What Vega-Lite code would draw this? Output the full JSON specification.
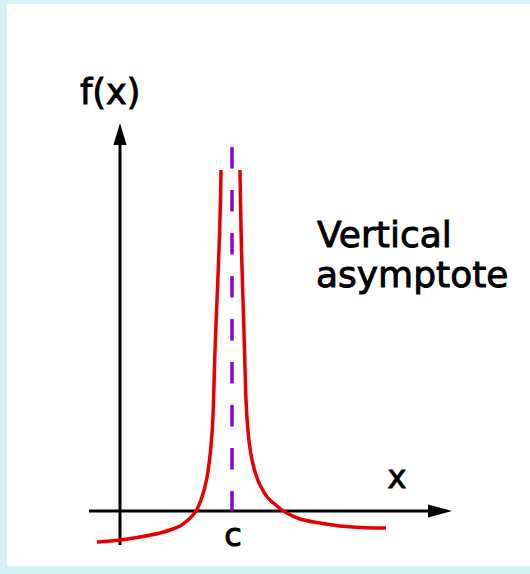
{
  "$schema": "https://vega.github.io/schema/vega-lite/v6.json",
  "width": 523,
  "height": 562,
  "autosize": {"type": "none"},
  "padding": {"left": 7, "top": 4, "right": 0, "bottom": 8},
  "background": "#d4f1f5",
  "config": {"view": {"fill": "#ffffff", "stroke": null}},
  "datasets": {
    "axes": [
      {"x": -3.1, "y": 0, "x2": 31.0, "y2": 0},
      {"x": 0, "y": -3.4, "x2": 0, "y2": 37.6}
    ],
    "asymptote": [
      {"x": 11.2, "y": 36.4, "x2": 11.2, "y2": 0}
    ],
    "curve": [
      {"branch": "left", "x": -2.3, "y": -3.1},
      {"branch": "left", "x": 0, "y": -2.9},
      {"branch": "left", "x": 2.0, "y": -2.6},
      {"branch": "left", "x": 4.0, "y": -2.2},
      {"branch": "left", "x": 5.0, "y": -1.9},
      {"branch": "left", "x": 6.0, "y": -1.5},
      {"branch": "left", "x": 6.8, "y": -0.9},
      {"branch": "left", "x": 7.6, "y": 0},
      {"branch": "left", "x": 8.2, "y": 1.4},
      {"branch": "left", "x": 8.65, "y": 3.1},
      {"branch": "left", "x": 8.95, "y": 5.1},
      {"branch": "left", "x": 9.15, "y": 7.1},
      {"branch": "left", "x": 9.28, "y": 9.1},
      {"branch": "left", "x": 9.4, "y": 12.6},
      {"branch": "left", "x": 9.5, "y": 16.1},
      {"branch": "left", "x": 9.7, "y": 21.1},
      {"branch": "left", "x": 9.9, "y": 26.1},
      {"branch": "left", "x": 10.05, "y": 31.1},
      {"branch": "left", "x": 10.1, "y": 34.1},
      {"branch": "right", "x": 12.0, "y": 34.1},
      {"branch": "right", "x": 12.05, "y": 31.1},
      {"branch": "right", "x": 12.15, "y": 26.1},
      {"branch": "right", "x": 12.3, "y": 21.1},
      {"branch": "right", "x": 12.45, "y": 16.1},
      {"branch": "right", "x": 12.6, "y": 11.1},
      {"branch": "right", "x": 12.75, "y": 8.6},
      {"branch": "right", "x": 12.95, "y": 6.6},
      {"branch": "right", "x": 13.25, "y": 4.9},
      {"branch": "right", "x": 13.6, "y": 3.6},
      {"branch": "right", "x": 14.0, "y": 2.6},
      {"branch": "right", "x": 14.8, "y": 1.3},
      {"branch": "right", "x": 15.7, "y": 0.5},
      {"branch": "right", "x": 16.5, "y": -0.1},
      {"branch": "right", "x": 18.0, "y": -0.8},
      {"branch": "right", "x": 20.0, "y": -1.2},
      {"branch": "right", "x": 22.0, "y": -1.5},
      {"branch": "right", "x": 24.0, "y": -1.65},
      {"branch": "right", "x": 26.6, "y": -1.7}
    ],
    "arrowX": [{"x": 32.0, "y": 0}],
    "arrowY": [{"x": 0, "y": 37.7}],
    "labelFx": [{"x": -4.0, "y": 40.7, "label": "f(x)"}],
    "labelNote": [
      {"x": 19.7, "y": 26.4, "label": "Vertical"},
      {"x": 19.6, "y": 22.4, "label": "asymptote"}
    ],
    "labelAxis": [
      {"x": 27.7, "y": 2.3, "label": "x"},
      {"x": 11.3, "y": -3.5, "label": "c"}
    ]
  },
  "encoding": {
    "x": {"field": "x", "type": "quantitative", "scale": {"domain": [-11.3, 41], "nice": false, "zero": false}, "axis": null},
    "y": {"field": "y", "type": "quantitative", "scale": {"domain": [-5.5, 50.7], "nice": false, "zero": false}, "axis": null}
  },
  "layer": [
    {
      "data": {"name": "axes"},
      "mark": {"type": "rule", "color": "#000000", "strokeWidth": 3},
      "encoding": {
        "x2": {"field": "x2"},
        "y2": {"field": "y2"}
      }
    },
    {
      "data": {"name": "arrowX"},
      "mark": {"type": "point", "shape": "M1,0L-1,-0.55L-1,0.55Z", "size": 576, "filled": true, "color": "#000000", "opacity": 1, "strokeWidth": 0}
    },
    {
      "data": {"name": "arrowY"},
      "mark": {"type": "point", "shape": "M0,-1L-0.6,1L0.6,1Z", "size": 484, "filled": true, "color": "#000000", "opacity": 1, "strokeWidth": 0}
    },
    {
      "data": {"name": "asymptote"},
      "mark": {"type": "rule", "color": "#8c00d4", "strokeWidth": 3.5, "strokeDash": [21.5, 21.5]},
      "encoding": {
        "x2": {"field": "x2"},
        "y2": {"field": "y2"}
      }
    },
    {
      "data": {"name": "curve"},
      "mark": {"type": "line", "color": "#e80000", "strokeWidth": 3.5, "interpolate": "catmull-rom"},
      "encoding": {
        "detail": {"field": "branch", "type": "nominal"}
      }
    },
    {
      "data": {"name": "labelFx"},
      "mark": {"type": "text", "font": "DejaVu Sans", "fontSize": 35, "align": "left", "baseline": "alphabetic", "fill": "#000000", "stroke": "#000000", "strokeWidth": 0.9},
      "encoding": {"text": {"field": "label"}}
    },
    {
      "data": {"name": "labelNote"},
      "mark": {"type": "text", "font": "DejaVu Sans", "fontSize": 36, "align": "left", "baseline": "alphabetic", "fill": "#000000", "stroke": "#000000", "strokeWidth": 0.9},
      "encoding": {"text": {"field": "label"}}
    },
    {
      "data": {"name": "labelAxis"},
      "mark": {"type": "text", "font": "DejaVu Sans", "fontSize": 32, "align": "center", "baseline": "alphabetic", "fill": "#000000", "stroke": "#000000", "strokeWidth": 0.9},
      "encoding": {"text": {"field": "label"}}
    }
  ]
}
